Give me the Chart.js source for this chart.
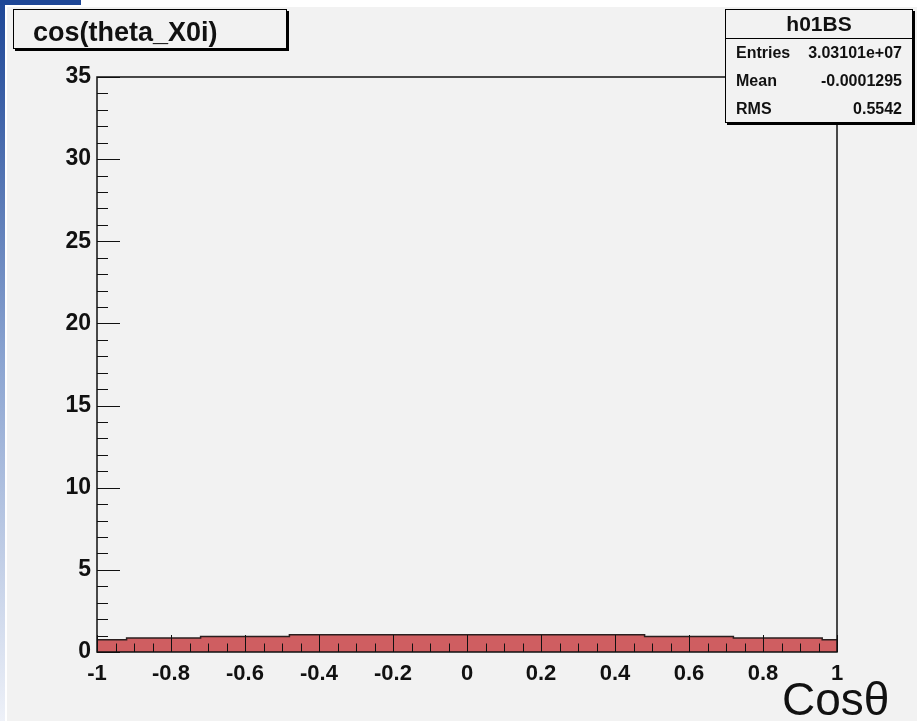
<!DOCTYPE html>
<html>
<head>
<meta charset="utf-8">
<script src="https://cdn.jsdelivr.net/npm/chart.js@4"></script>
<style>
    html, body { margin: 0; padding: 0; }
    body {
        width: 917px; height: 721px; overflow: hidden; position: relative;
        background: #f2f2f2;
        font-family: "Liberation Sans", Arial, sans-serif; color: #111;
    }
    #plot { position: absolute; left: 0; top: 0; }
    .abs { position: absolute; }
    .stripe { left: 0; top: 0; width: 5px; height: 721px;
        background: linear-gradient(to bottom, #1d4696, #8ba4d1 50%, #eef1f8); }
    .stripe-gap { left: 5px; top: 0; width: 2px; height: 721px; background: #fff; }
    .top-band { left: 0; top: 0; width: 917px; height: 7px; background: #fff; }
    .top-block { left: 0; top: 0; width: 81px; height: 5px; background: #1d4696; }
    .box { box-sizing: border-box; border: 1px solid #000; background: #f2f2f2;
        box-shadow: 2px 2px 0 #000; }
    .txt { line-height: 1; white-space: nowrap; font-weight: bold; }
</style>
</head>
<body>
<div class="abs top-band"></div>
<div class="abs stripe"></div>
<div class="abs stripe-gap"></div>
<div class="abs top-block"></div>
<canvas id="plot" width="917" height="721"></canvas>

<div class="abs box" style="left:13px; top:9px; width:274px; height:40px;"></div>
<div class="abs txt" style="left:33px; top:19px; font-size:27px;">cos(theta_X0i)</div>

<div class="abs box" style="left:725px; top:9px; width:188px; height:114px;"></div>
<div class="abs" style="left:725px; top:38px; width:187px; height:1px; background:#000;"></div>
<div class="abs txt" style="left:725px; width:188px; top:13px; font-size:21px; text-align:center;">h01BS</div>
<div class="abs txt" style="left:736px; top:45px; font-size:16px;">Entries</div>
<div class="abs txt" style="right:15px; top:45px; font-size:16px;">3.03101e+07</div>
<div class="abs txt" style="left:736px; top:73px; font-size:16px;">Mean</div>
<div class="abs txt" style="right:15px; top:73px; font-size:16px;">-0.0001295</div>
<div class="abs txt" style="left:736px; top:101px; font-size:16px;">RMS</div>
<div class="abs txt" style="right:15px; top:101px; font-size:16px;">0.5542</div>

<div class="abs" style="left:782px; top:676px; font-size:46px; line-height:1;">Cosθ</div>

<script>
'use strict';

// histogram: bin edges and contents (flat runs merged)
const binEdges  = [-1, -0.92, -0.72, -0.48, 0.48, 0.72, 0.96, 1];
const binValues = [0.75, 0.85, 0.95, 1.05, 0.95, 0.85, 0.75];

const xTickValues = [-1, -0.8, -0.6, -0.4, -0.2, 0, 0.2, 0.4, 0.6, 0.8, 1];
const yTickValues = [0, 5, 10, 15, 20, 25, 30, 35];

const FONT = '"Liberation Sans", Arial, sans-serif';
const INK = '#111';

// ROOT style frame with ticks pointing inwards
const rootFrame = {
    id: 'rootFrame',
    afterDatasetsDraw(chart) {
        const { ctx, chartArea: a, scales: { x, y } } = chart;
        const crisp = v => Math.round(v) + 0.5;
        ctx.save();
        ctx.strokeStyle = INK;
        ctx.lineWidth = 1;
        ctx.beginPath();
        // x: major every 0.2, minor every 0.05
        for (let k = 0; k <= 40; k++) {
            const px = crisp(x.getPixelForValue(-1 + k * 0.05));
            const len = k % 4 === 0 ? 17 : 8.5;
            ctx.moveTo(px, a.bottom);
            ctx.lineTo(px, a.bottom - len);
        }
        // y: major every 5, minor every 1
        for (let k = 0; k <= 35; k++) {
            const py = crisp(y.getPixelForValue(k));
            const len = k % 5 === 0 ? 23 : 11;
            ctx.moveTo(a.left, py);
            ctx.lineTo(a.left + len, py);
        }
        ctx.stroke();
        ctx.lineWidth = 1.5;
        ctx.strokeRect(a.left, a.top, a.right - a.left, a.bottom - a.top);
        ctx.restore();
    }
};

const points = binEdges.map((edge, i) => ({
    x: edge,
    y: binValues[Math.min(i, binValues.length - 1)]
}));

new Chart(document.getElementById('plot').getContext('2d'), {
    type: 'line',
    data: {
        datasets: [{
            label: 'h01BS',
            data: points,
            stepped: true,
            fill: 'origin',
            backgroundColor: '#cf5e61',
            borderColor: '#2b1f1f',
            borderWidth: 1.5,
            pointRadius: 0
        }]
    },
    options: {
        responsive: false,
        devicePixelRatio: 1,
        animation: false,
        layout: { padding: { top: 77, right: 80, left: 0, bottom: 0 } },
        plugins: { legend: { display: false }, tooltip: { enabled: false } },
        scales: {
            x: {
                type: 'linear', min: -1, max: 1,
                afterBuildTicks: s => { s.ticks = xTickValues.map(v => ({ value: v })); },
                afterFit: s => { s.height = 69; },
                grid: { display: false, drawTicks: false },
                border: { display: false },
                ticks: {
                    color: INK, padding: 9, maxRotation: 0, autoSkip: false,
                    font: { family: FONT, size: 22, weight: 'bold' },
                    callback: v => String(v)
                }
            },
            y: {
                type: 'linear', min: 0, max: 35,
                afterBuildTicks: s => { s.ticks = yTickValues.map(v => ({ value: v })); },
                afterFit: s => { s.width = 97; },
                grid: { display: false, drawTicks: false },
                border: { display: false },
                ticks: {
                    color: INK, padding: 6, autoSkip: false,
                    font: { family: FONT, size: 23, weight: 'bold' },
                    callback: v => String(v)
                }
            }
        }
    },
    plugins: [rootFrame]
});
</script>
</body>
</html>
